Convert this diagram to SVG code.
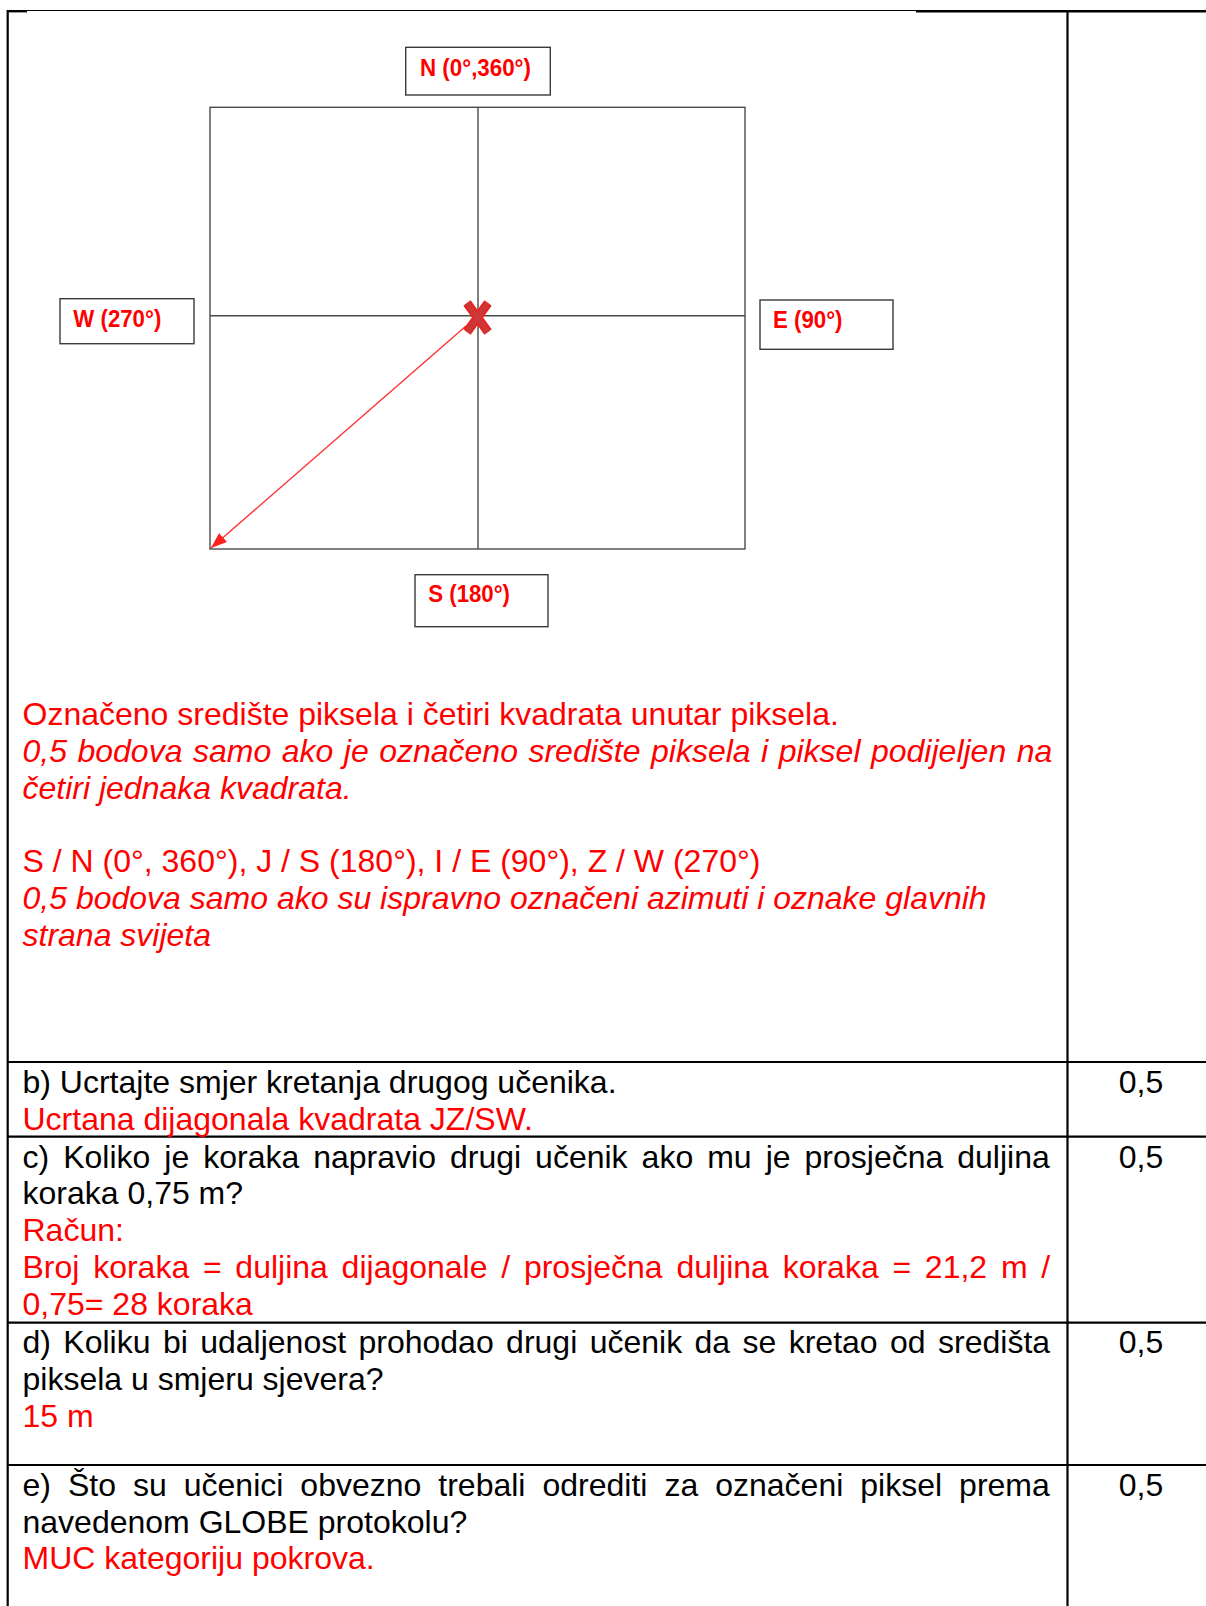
<svg xmlns="http://www.w3.org/2000/svg" width="1206" height="1606" viewBox="0 0 1206 1606">
<defs>
<style>
.t{font-family:"Liberation Sans",Arial,sans-serif;font-size:32px}
.r{fill:#ff0000}
.k{fill:#000}
.i{font-style:italic}
.lbl{font-family:"Liberation Sans",Arial,sans-serif;font-size:23px;font-weight:bold;fill:#ff0000}
.box{fill:#fff;stroke:#3a3a3a;stroke-width:1.4}
.grid{fill:none;stroke:#4a4a4a;stroke-width:1.4}
.tbl{stroke:#000;stroke-width:2.2;fill:none}
</style>
<marker id="ah" markerWidth="18" markerHeight="12" refX="16" refY="6" orient="auto" markerUnits="userSpaceOnUse">
<path d="M0,0 L16,6 L0,12 z" fill="#ff2020"/>
</marker>
</defs>
<rect width="1206" height="1606" fill="#fff"/>

<g id="table">
<line class="tbl" x1="7.7" y1="10" x2="7.7" y2="1606"/>
<line x1="7" y1="10.5" x2="916" y2="10.5" stroke="#000" stroke-width="1.2"/>
<line x1="7" y1="11.2" x2="27" y2="11.2" stroke="#000" stroke-width="2.4"/>
<line x1="916" y1="11.2" x2="1206" y2="11.2" stroke="#000" stroke-width="2.4"/>
<line class="tbl" x1="1067.5" y1="11" x2="1067.5" y2="1606"/>
<line class="tbl" x1="7" y1="1062" x2="1206" y2="1062"/>
<line class="tbl" x1="7" y1="1136.7" x2="1206" y2="1136.7"/>
<line class="tbl" x1="7" y1="1322.7" x2="1206" y2="1322.7"/>
<line class="tbl" x1="7" y1="1465" x2="1206" y2="1465"/>
</g>

<g id="pixel">
<rect class="grid" x="210" y="107.3" width="535" height="441.7"/>
<line class="grid" x1="478" y1="107.3" x2="478" y2="549"/>
<line class="grid" x1="210" y1="315.7" x2="745" y2="315.7"/>
</g>

<g id="node-N">
<rect class="box" x="405.7" y="47.3" width="144.6" height="47.7"/>
<text class="lbl" x="420" y="76" textLength="111" lengthAdjust="spacingAndGlyphs">N (0°,360°)</text>
</g>
<g id="node-W">
<rect class="box" x="60" y="298.7" width="134" height="45"/>
<text class="lbl" x="73.3" y="327" textLength="88" lengthAdjust="spacingAndGlyphs">W (270°)</text>
</g>
<g id="node-E">
<rect class="box" x="760" y="300" width="133" height="49.3"/>
<text class="lbl" x="773" y="327.7" textLength="69.5" lengthAdjust="spacingAndGlyphs">E (90°)</text>
</g>
<g id="node-S">
<rect class="box" x="415" y="574.7" width="133" height="52"/>
<text class="lbl" x="428.3" y="602.3" textLength="81.7" lengthAdjust="spacingAndGlyphs">S (180°)</text>
</g>

<g id="connectors">
<line x1="466" y1="326" x2="211" y2="548" stroke="#ff3030" stroke-width="1.4" marker-end="url(#ah)"/>
</g>

<g id="center-mark">
<line x1="467" y1="303" x2="488" y2="332" stroke="#ee2020" stroke-width="9"/>
<line x1="488" y1="303" x2="467" y2="332" stroke="#ee2020" stroke-width="9"/>
<line x1="467" y1="303" x2="488" y2="332" stroke="#cc3838" stroke-width="5.5"/>
<line x1="488" y1="303" x2="467" y2="332" stroke="#cc3838" stroke-width="5.5"/>
</g>

<g id="notes">
<text class="t r" x="22.5" y="725">Označeno središte piksela i četiri kvadrata unutar piksela.</text>
<text class="t r i" x="22.5" y="761.8" word-spacing="1.6">0,5 bodova samo ako je označeno središte piksela i piksel podijeljen na</text>
<text class="t r i" x="22.5" y="798.6">četiri jednaka kvadrata.</text>
<text class="t r" x="22.5" y="872.2">S / N (0°, 360°), J / S (180°), I / E (90°), Z / W (270°)</text>
<text class="t r i" x="22.5" y="909">0,5 bodova samo ako su ispravno označeni azimuti i oznake glavnih</text>
<text class="t r i" x="22.5" y="945.8">strana svijeta</text>
</g>

<g id="row-b">
<text class="t k" x="22.5" y="1093">b) Ucrtajte smjer kretanja drugog učenika.</text>
<text class="t r" x="22.5" y="1129.8">Ucrtana dijagonala kvadrata JZ/SW.</text>
<text class="t k" x="1141" y="1093" text-anchor="middle">0,5</text>
</g>
<g id="row-c">
<text class="t k" x="22.5" y="1167.5" word-spacing="5.1">c) Koliko je koraka napravio drugi učenik ako mu je prosječna duljina</text>
<text class="t k" x="22.5" y="1204.3">koraka 0,75 m?</text>
<text class="t r" x="22.5" y="1241.1">Račun:</text>
<text class="t r" x="22.5" y="1277.9" word-spacing="4.85">Broj koraka = duljina dijagonale / prosječna duljina koraka = 21,2 m /</text>
<text class="t r" x="22.5" y="1314.7">0,75= 28 koraka</text>
<text class="t k" x="1141" y="1167.5" text-anchor="middle">0,5</text>
</g>
<g id="row-d">
<text class="t k" x="22.5" y="1353.3" word-spacing="3.5">d) Koliku bi udaljenost prohodao drugi učenik da se kretao od središta</text>
<text class="t k" x="22.5" y="1390.1">piksela u smjeru sjevera?</text>
<text class="t r" x="22.5" y="1426.9">15 m</text>
<text class="t k" x="1141" y="1353.3" text-anchor="middle">0,5</text>
</g>
<g id="row-e">
<text class="t k" x="22.5" y="1495.7" word-spacing="8.1">e) Što su učenici obvezno trebali odrediti za označeni piksel prema</text>
<text class="t k" x="22.5" y="1532.5">navedenom GLOBE protokolu?</text>
<text class="t r" x="22.5" y="1569.3">MUC kategoriju pokrova.</text>
<text class="t k" x="1141" y="1495.7" text-anchor="middle">0,5</text>
</g>
</svg>
